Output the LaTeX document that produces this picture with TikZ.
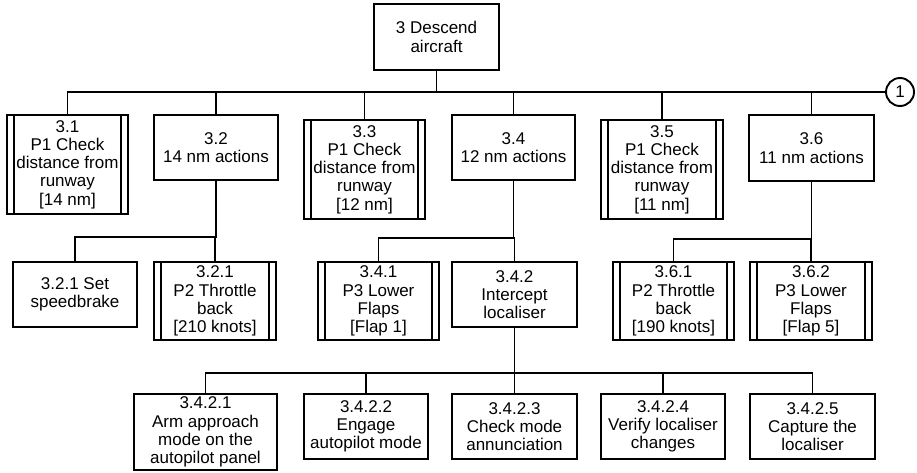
\documentclass[tikz,border=0pt]{standalone}
\usepackage{fontspec}
\setmainfont{Liberation Sans}
\usepackage{tikz}

\begin{document}
\begin{tikzpicture}[x=1pt, y=-1pt, line width=1.9pt,
    main/.style = {draw, rectangle, inner sep=0pt, align=center,
      font=\fontsize{17}{18.3}\selectfont},
    proc/.style = {main, path picture={
        \draw[line width=1.9pt]
        ([xshift=7pt]path picture bounding box.north west) -- ([xshift=7pt]path picture bounding box.south west)
        ([xshift=-7pt]path picture bounding box.north east) -- ([xshift=-7pt]path picture bounding box.south east);}},
    size/.style 2 args = {minimum width=#1pt, minimum height=#2pt}]
      \useasboundingbox (0,0) rectangle (917,473);
      % top goal
      \node[main, size={125}{66}] (n3) at (436.5,37) {3 Descend\\aircraft};
      % first level
      \node[proc, size={121}{99}] (n31) at (67.5,164.5) {3.1\\P1 Check\\distance from\\runway\\{[14 nm]}};
      \node[main, size={124}{65}] (n32) at (216,147.5) {3.2\\14 nm actions};
      \node[proc, size={121}{99}] (n33) at (364.5,169.5) {3.3\\P1 Check\\distance from\\runway\\{[12 nm]}};
      \node[main, size={123}{65}] (n34) at (513.5,147.5) {3.4\\12 nm actions};
      \node[proc, size={122}{99}] (n35) at (662,169.5) {3.5\\P1 Check\\distance from\\runway\\{[11 nm]}};
      \node[main, size={125}{66}] (n36) at (811.5,148) {3.6\\11 nm actions};
      \node[draw, circle, minimum size=28pt, inner sep=0pt,
        font=\fontsize{17}{18.3}\selectfont] (c1) at (900,92) {1};
      % second level
      \node[main, size={124}{65}] (n321a) at (75,294.5) {3.2.1 Set\\speedbrake};
      \node[proc, size={122}{78}] (n321b) at (215,301) {3.2.1\\P2 Throttle\\back\\{[210 knots]}};
      \node[proc, size={121}{78}] (n341) at (378.5,301) {3.4.1\\P3 Lower\\Flaps\\{[Flap 1]}};
      \node[main, size={125}{65}] (n342) at (514.5,294.5) {3.4.2\\Intercept\\localiser};
      \node[proc, size={121}{78}] (n361) at (673.5,301) {3.6.1\\P2 Throttle\\back\\{[190 knots]}};
      \node[proc, size={122}{78}] (n362) at (811,301) {3.6.2\\P3 Lower\\Flaps\\{[Flap 5]}};
      % third level
      \node[main, size={143}{76}] (n3421) at (205.5,432) {3.4.2.1\\Arm approach\\mode on the\\autopilot panel};
      \node[main, size={124}{65}] (n3422) at (366,426.5) {3.4.2.2\\Engage\\autopilot mode};
      \node[main, size={125}{65}] (n3423) at (514.5,426.5) {3.4.2.3\\Check mode\\annunciation};
      \node[main, size={124}{65}] (n3424) at (663,426.5) {3.4.2.4\\Verify localiser\\changes};
      \node[main, size={125}{65}] (n3425) at (812.5,426.5) {3.4.2.5\\Capture the\\localiser};

      % bus lines
      \coordinate (b3) at (0,92);
      \coordinate (b32) at (0,237);
      \coordinate (b34) at (0,238);
      \coordinate (b36) at (0,239);
      \coordinate (b342) at (0,373);

      \draw (n3.south) -- (n3.south |- b3) -- (c1.west);
      \foreach \k in {n31,n32,n33,n34,n35,n36}
        \draw (n3.south |- b3) -| (\k.north);
      \foreach \k in {n321a,n321b}
        \draw (n32.south) |- (\k.north |- b32) -- (\k.north);
      \foreach \k in {n341,n342}
        \draw (n34.south) |- (\k.north |- b34) -- (\k.north);
      \foreach \k in {n361,n362}
        \draw (n36.south) |- (\k.north |- b36) -- (\k.north);
      \foreach \k in {n3421,n3422,n3423,n3424,n3425}
        \draw (n342.south) |- (\k.north |- b342) -- (\k.north);
    \end{tikzpicture}
\end{document}
